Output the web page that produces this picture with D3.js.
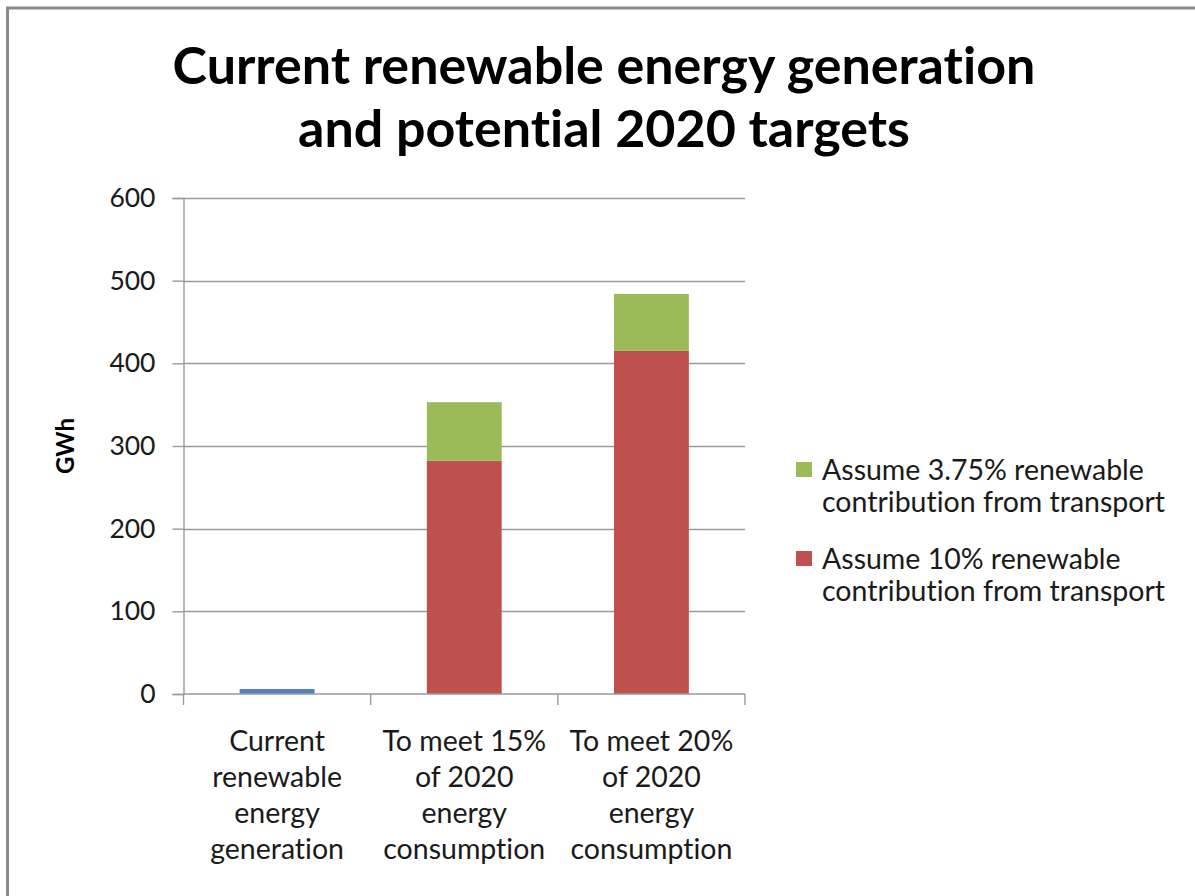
<!DOCTYPE html>
<html>
<head>
<meta charset="utf-8">
<script src="https://cdn.jsdelivr.net/npm/d3@7"></script>
<style>
  html, body { margin: 0; padding: 0; background: #fff; }
  svg { display: block; font-family: Lato, "Open Sans", sans-serif; font-variant-ligatures: none; }
</style>
</head>
<body>
<svg id="chart" width="1195" height="896"></svg>
<script>
const categories = ["current", "target15", "target20"];
const categoryLines = [
  ["Current", "renewable", "energy", "generation"],
  ["To meet 15%", "of 2020", "energy", "consumption"],
  ["To meet 20%", "of 2020", "energy", "consumption"],
];
const currentGen = [6, 0, 0];
const transport10 = [0, 282, 415];
const transport375 = [0, 71, 69];
const yTicks = [0, 100, 200, 300, 400, 500, 600];

const seriesKeys = ["currentGen", "transport10", "transport375"];
const seriesColor = {
  currentGen: "#4f81bd",
  transport10: "#c0504d",
  transport375: "#9bbb59",
};
const legendItems = [
  { key: "transport375", lines: ["Assume 3.75% renewable", "contribution from transport"] },
  { key: "transport10", lines: ["Assume 10% renewable", "contribution from transport"] },
];

const rows = categories.map((c, i) => ({
  cat: c,
  currentGen: currentGen[i],
  transport10: transport10[i],
  transport375: transport375[i],
}));

const svg = d3.select("#chart");

// outer frame
svg
  .append("rect")
  .attr("x", 7.5)
  .attr("y", 8)
  .attr("width", 2000)
  .attr("height", 2000)
  .attr("fill", "none")
  .attr("stroke", "#8a8a8a")
  .attr("stroke-width", 3);

// title
const title = svg
  .append("text")
  .attr("text-anchor", "middle")
  .attr("font-weight", 700)
  .attr("font-size", 52)
  .attr("fill", "#000");
title.append("tspan").attr("x", 604).attr("y", 84).text("Current renewable energy generation");
title.append("tspan").attr("x", 604).attr("y", 147).text("and potential 2020 targets");

const plot = { left: 183.5, right: 745, top: 198, bottom: 694 };

const x = d3
  .scaleBand()
  .domain(categories)
  .range([plot.left, plot.right])
  .paddingInner(0)
  .paddingOuter(0);

const y = d3.scaleLinear().domain([0, 600]).range([plot.bottom, plot.top]);

const gridColor = "#9a9a9a";

// gridlines
svg
  .append("g")
  .selectAll("line")
  .data(yTicks.filter((d) => d > 0))
  .join("line")
  .attr("x1", plot.left)
  .attr("x2", plot.right)
  .attr("y1", (d) => Math.round(y(d)) + 0.5)
  .attr("y2", (d) => Math.round(y(d)) + 0.5)
  .attr("stroke", gridColor)
  .attr("stroke-width", 1.4);

// y axis
const yAxisG = svg
  .append("g")
  .attr("transform", `translate(${plot.left},0)`)
  .call(d3.axisLeft(y).tickValues(yTicks).tickSize(11).tickPadding(17));
yAxisG.select(".domain").attr("stroke", gridColor).attr("stroke-width", 1.4);
yAxisG.selectAll(".tick line").attr("stroke", gridColor).attr("stroke-width", 1.4);
yAxisG
  .selectAll(".tick text")
  .attr("font-family", "Lato, 'Open Sans', sans-serif")
  .attr("font-size", 26.5)
  .attr("fill", "#1a1a1a");

// y axis title
svg
  .append("text")
  .attr("transform", `translate(74,${(plot.top + plot.bottom) / 2}) rotate(-90)`)
  .attr("text-anchor", "middle")
  .attr("font-weight", 700)
  .attr("font-size", 24)
  .attr("fill", "#000")
  .text("GWh");

// stacked bars
const stack = d3.stack().keys(seriesKeys);
const stacked = stack(rows);
const barW = x.bandwidth() * 0.4;

svg
  .append("g")
  .selectAll("g")
  .data(stacked)
  .join("g")
  .attr("fill", (s) => seriesColor[s.key])
  .selectAll("rect")
  .data((s) => s.filter((d) => d[1] - d[0] > 0))
  .join("rect")
  .attr("x", (d) => x(d.data.cat) + (x.bandwidth() - barW) / 2)
  .attr("y", (d) => y(d[1]))
  .attr("width", barW)
  .attr("height", (d) => y(d[0]) - y(d[1]));

// x axis
const xAxisG = svg.append("g");
xAxisG
  .append("line")
  .attr("x1", plot.left)
  .attr("x2", plot.right)
  .attr("y1", plot.bottom)
  .attr("y2", plot.bottom)
  .attr("stroke", gridColor)
  .attr("stroke-width", 1.4);
const boundaries = [plot.left].concat(categories.map((c) => x(c) + x.bandwidth()));
xAxisG
  .selectAll("line.tick")
  .data(boundaries)
  .join("line")
  .attr("class", "tick")
  .attr("x1", (d) => d)
  .attr("x2", (d) => d)
  .attr("y1", plot.bottom)
  .attr("y2", plot.bottom + 11)
  .attr("stroke", gridColor)
  .attr("stroke-width", 1.4);

const catLabels = xAxisG
  .selectAll("text")
  .data(categories)
  .join("text")
  .attr("text-anchor", "middle")
  .attr("font-size", 28.5)
  .attr("fill", "#1a1a1a");
catLabels.each(function (c, i) {
  const t = d3.select(this);
  categoryLines[i].forEach((line, j) => {
    t.append("tspan")
      .attr("x", x(c) + x.bandwidth() / 2)
      .attr("y", 751 + j * 36)
      .text(line);
  });
});

// legend
const legend = svg.append("g");
legendItems.forEach((item, i) => {
  const top = 462 + i * 89;
  legend
    .append("rect")
    .attr("x", 796)
    .attr("y", top)
    .attr("width", 16)
    .attr("height", 15)
    .attr("fill", seriesColor[item.key]);
  const t = legend
    .append("text")
    .attr("font-size", 28.5)
    .attr("fill", "#1a1a1a");
  item.lines.forEach((line, j) => {
    t.append("tspan")
      .attr("x", 822)
      .attr("y", top + 18 + j * 32)
      .text(line);
  });
});
</script>
</body>
</html>
